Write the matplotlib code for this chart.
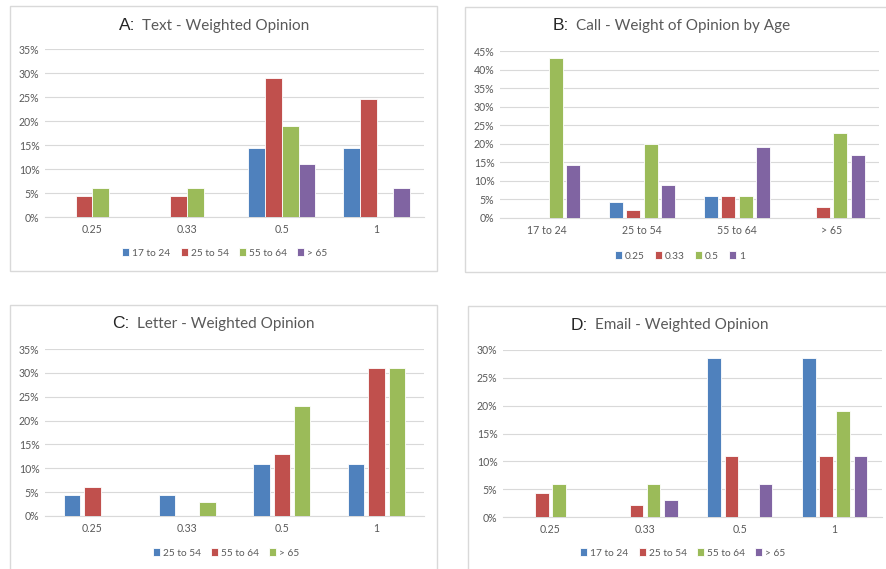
import numpy as np
import matplotlib
matplotlib.use("Agg")
import matplotlib.pyplot as plt
from matplotlib.patches import Rectangle
from matplotlib.ticker import PercentFormatter, MultipleLocator

# ---- data (fractions) ----
weights = ["0.25", "0.33", "0.5", "1"]
ages4 = ["17 to 24", "25 to 54", "55 to 64", "> 65"]
ages3 = ["25 to 54", "55 to 64", "> 65"]

# A: Text - rows are age series, columns are weights
text_17_24 = [0.0, 0.0, 0.143, 0.143]
text_25_54 = [0.043, 0.043, 0.29, 0.245]
text_55_64 = [0.06, 0.06, 0.19, 0.0]
text_65 = [0.0, 0.0, 0.11, 0.06]

# B: Call - rows are weight series, columns are ages
call_025 = [0.0, 0.044, 0.06, 0.0]
call_033 = [0.0, 0.022, 0.06, 0.03]
call_05 = [0.43, 0.20, 0.06, 0.23]
call_1 = [0.143, 0.09, 0.19, 0.17]

# C: Letter
letter_25_54 = [0.043, 0.043, 0.11, 0.11]
letter_55_64 = [0.06, 0.0, 0.13, 0.31]
letter_65 = [0.0, 0.03, 0.23, 0.31]

# D: Email
email_17_24 = [0.0, 0.0, 0.286, 0.286]
email_25_54 = [0.043, 0.021, 0.11, 0.11]
email_55_64 = [0.06, 0.06, 0.0, 0.19]
email_65 = [0.0, 0.03, 0.06, 0.11]

colors = ["#4F81BD", "#C0504D", "#9BBB59", "#8064A2"]
GRAY = "#595959"
GRID = "#D9D9D9"
W, H = 887, 569

fig = plt.figure(figsize=(W / 100, H / 100), dpi=100)
fig.patch.set_facecolor("white")


def fx(x):
    return x / W


def fy(y):
    return 1 - y / H


def panel_box(x0, y0, x1, y1):
    fig.add_artist(Rectangle((fx(x0), fy(y1)), fx(x1) - fx(x0), fy(y0) - fy(y1),
                             transform=fig.transFigure, fill=False,
                             edgecolor=GRID, linewidth=1.0))


def draw(box, rect, letter, title, title_pos, cats, names, series, ymax,
         width, step, leg_pos):
    panel_box(*box)
    left, top, right, bottom = rect
    ax = fig.add_axes([fx(left), fy(bottom), fx(right) - fx(left), fy(top) - fy(bottom)])
    x = np.arange(len(cats))
    n = len(series)
    handles = []
    for i, vals in enumerate(series):
        off = (i - (n - 1) / 2) * step
        b = ax.bar(x + off, vals, width, color=colors[i], edgecolor="white",
                   linewidth=0.6, label=names[i], zorder=3)
        handles.append(b)
    ax.set_xlim(-0.5, len(cats) - 0.5)
    ax.set_ylim(0, ymax)
    ax.yaxis.set_major_locator(MultipleLocator(0.05))
    ax.yaxis.set_major_formatter(PercentFormatter(1.0, decimals=0))
    ax.set_xticks(x)
    ax.set_xticklabels(cats)
    ax.grid(axis="y", color=GRID, linewidth=0.8, zorder=0)
    for s in ["top", "right", "left"]:
        ax.spines[s].set_visible(False)
    ax.spines["bottom"].set_color(GRID)
    ax.tick_params(axis="both", length=0, colors=GRAY, labelsize=7.6)
    ax.tick_params(axis="x", pad=5)
    ax.tick_params(axis="y", pad=4)
    for lab in ax.get_xticklabels() + ax.get_yticklabels():
        lab.set_fontfamily("Lato")

    tx, ty = title_pos
    fig.text(fx(tx - 7), fy(ty), letter, ha="right", va="center",
             fontsize=12.5, color="#262626", family="Liberation Sans")
    fig.text(fx(tx), fy(ty), title, ha="left", va="center",
             fontsize=11, color=GRAY, family="Lato")

    fig.legend(handles=handles, labels=names, loc="center",
               bbox_to_anchor=(fx(leg_pos[0]), fy(leg_pos[1])), ncol=n,
               frameon=False, handlelength=0.7, handleheight=0.7,
               handletextpad=0.3, columnspacing=1.0,
               prop={"family": "Lato", "size": 7.3}, labelcolor=GRAY)
    return ax


draw((10, 6, 437, 271), (45, 49, 424, 217), "A:", "Text - Weighted Opinion",
     (142, 26), weights, ages4, [text_17_24, text_25_54, text_55_64, text_65],
     0.35, 0.177, 0.177, (225, 253))

draw((465, 7, 900, 272), (500, 51, 879, 218), "B:", "Call - Weight of Opinion by Age",
     (576, 26), ages4, weights, [call_025, call_033, call_05, call_1],
     0.45, 0.148, 0.183, (680, 256))

draw((10, 305, 437, 590), (45, 349, 424, 516), "C:", "Letter - Weighted Opinion",
     (137, 324), weights, ages3, [letter_25_54, letter_55_64, letter_65],
     0.35, 0.173, 0.215, (226, 553))

draw((468, 306, 900, 590), (503, 350, 882, 517), "D:", "Email - Weighted Opinion",
     (595, 325), weights, ages4, [email_17_24, email_25_54, email_55_64, email_65],
     0.30, 0.142, 0.181, (683, 553))

fig.savefig("out.png", dpi=100, facecolor="white")
